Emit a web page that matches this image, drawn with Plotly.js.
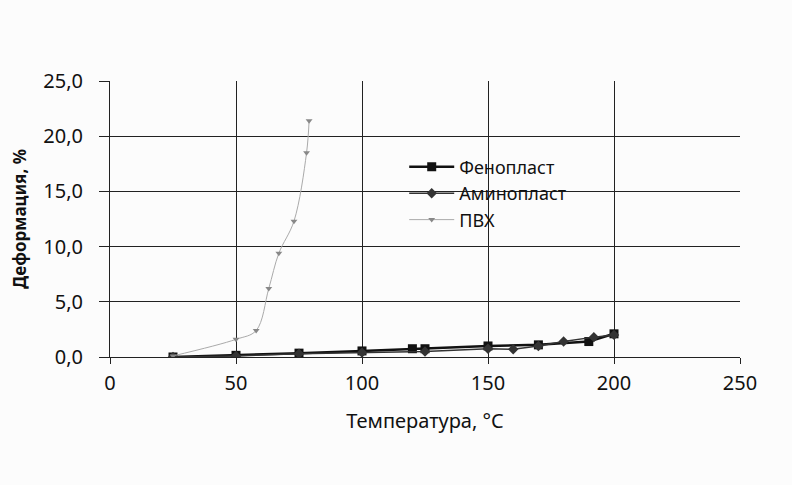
<!DOCTYPE html>
<html>
<head>
<meta charset="utf-8">
<script src="https://cdn.plot.ly/plotly-3.0.1.min.js"></script>
<style>html,body{margin:0;padding:0;background:#fcfcfc;}#chart{width:792px;height:485px;}</style>
</head>
<body>
<div id="chart"></div>
<script>
const fenoX = [25, 50, 75, 100, 120, 125, 150, 170, 190, 200];
const fenoY = [0.0, 0.15, 0.35, 0.55, 0.75, 0.75, 1.0, 1.1, 1.4, 2.1];
const aminoX = [25, 50, 75, 100, 125, 150, 160, 170, 180, 192, 200];
const aminoY = [0.0, 0.1, 0.3, 0.4, 0.5, 0.75, 0.7, 1.0, 1.4, 1.8, 2.0];
const pvhX = [25, 50, 58, 63, 67, 73, 78, 79];
const pvhY = [0.1, 1.6, 2.4, 6.2, 9.4, 12.3, 18.5, 21.4];
const names = ['Фенопласт', 'Аминопласт', 'ПВХ'];
const xTitle = 'Температура, °C';
const yTitle = 'Деформация, %';

const traces = [
  {x: fenoX, y: fenoY, name: names[0], mode: 'lines+markers',
   line: {color: '#111', width: 2.5}, marker: {symbol: 'square', size: 9, color: '#111'}},
  {x: aminoX, y: aminoY, name: names[1], mode: 'lines+markers',
   line: {color: '#333', width: 1.5}, marker: {symbol: 'diamond', size: 8, color: '#333'}},
  {x: pvhX, y: pvhY, name: names[2], mode: 'lines+markers',
   line: {color: '#aaa', width: 1, shape: 'spline'}, marker: {symbol: 'triangle-down', size: 6, color: '#888'}}
];

const layout = {
  width: 792, height: 485,
  paper_bgcolor: '#fcfcfc', plot_bgcolor: '#fcfcfc',
  margin: {l: 110, r: 52, t: 81, b: 128},
  separators: ', ',
  font: {family: '"Noto Sans", "Open Sans", sans-serif', size: 18, color: '#111'},
  showlegend: true,
  legend: {x: 0.467, y: 0.755, xanchor: 'left', yanchor: 'top', bgcolor: 'rgba(0,0,0,0)',
           itemwidth: 45, font: {size: 18, color: '#111'}, tracegroupgap: 0},
  xaxis: {range: [0, 250], dtick: 50, tick0: 0, showgrid: true, gridcolor: '#222', gridwidth: 1,
          showline: true, linecolor: '#222', linewidth: 1, ticks: 'outside', ticklen: 6, tickcolor: '#222',
          zeroline: false, tickfont: {size: 20}, ticklabelstandoff: 2,
          title: {text: xTitle, font: {size: 20}, standoff: 18}},
  yaxis: {range: [0, 25], dtick: 5, tickformat: '.1f', showgrid: true, gridcolor: '#222', gridwidth: 1,
          showline: true, linecolor: '#222', linewidth: 1, ticks: 'outside', ticklen: 10, tickcolor: '#222',
          zeroline: false, tickfont: {size: 20}, ticklabelstandoff: 12,
          title: {text: '<b>' + yTitle + '</b>', font: {size: 17}, standoff: 12}}
};

Plotly.newPlot('chart', traces, layout, {displayModeBar: false, staticPlot: true});
</script>
</body>
</html>
